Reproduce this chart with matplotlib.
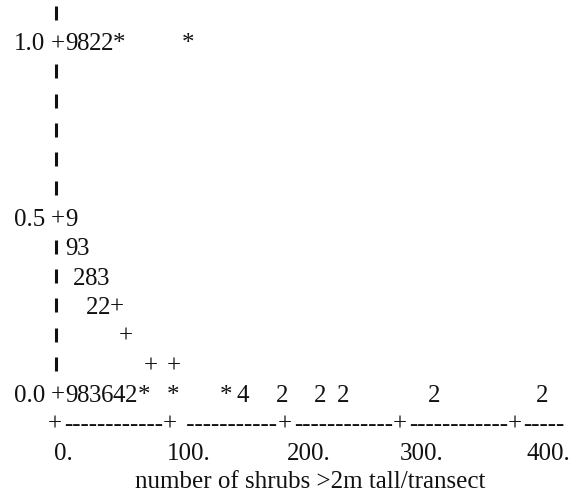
import matplotlib
matplotlib.use('Agg')
import matplotlib.pyplot as plt
import matplotlib.transforms as mtransforms

plt.rcParams['font.family'] = ['Liberation Serif', 'DejaVu Serif']

# character plot, one symbol per point (digits = number of overlapping points)
row_step = 1.0 / 12

y_ticks = [0.0, 0.5, 1.0]
y_tick_labels = ['0.0', '0.5', '1.0']
x_ticks = [0, 100, 200, 300, 400]
x_tick_labels = ['0.', '100.', '200.', '300.', '400.']
x_label = 'number of shrubs >2m tall/transect'
axis_dashes = ['-' * 12, ' ' + '-' * 11, '-' * 12, '-' * 12, '-' * 5]

# x = shrubs per transect, row = proportion / (1/12)
pts_x = [12.2, 22.6, 33.0, 43.5, 53.9, 113.9,
         12.2,
         12.2, 22.6,
         19.1, 29.6, 40.0,
         30.4, 40.9, 52.2,
         60.0,
         81.7, 101.7,
         12.2, 22.6, 33.0, 43.5, 53.9, 64.3, 75.7, 100.9, 147.0, 161.7,
         195.7, 228.7, 248.7, 327.8, 421.7]
pts_row = [12, 12, 12, 12, 12, 12,
           6,
           5, 5,
           4, 4, 4,
           3, 3, 3,
           2,
           1, 1,
           0, 0, 0, 0, 0, 0, 0, 0, 0, 0, 0, 0, 0, 0, 0]
pts_sym = ['9', '8', '2', '2', '*', '*',
           '9',
           '9', '3',
           '2', '8', '3',
           '2', '2', '+',
           '+',
           '+', '+',
           '9', '8', '3', '6', '4', '2', '*', '*', '*', '4',
           '2', '2', '2', '2', '2']

W, H = 577, 498
fig = plt.figure(figsize=(W / 100, H / 100), dpi=100)
ax = fig.add_axes([0, 0, 1, 1])
ax.axis('off')

# pixel layout of the scan
x0_px, px_per_unit = 57, 1.15
y0_px, px_per_row = 105, 29.25
ax.set_xlim(-x0_px / px_per_unit, (W - x0_px) / px_per_unit)
ax.set_ylim(-y0_px / (12 * px_per_row), (H - y0_px) / (12 * px_per_row))

fs = 18
ink = '#111111'
# shift so the row value sits at the middle of the digits
tr = mtransforms.offset_copy(ax.transData, fig=fig, y=-8.5, units='dots')

for x, r, s in zip(pts_x, pts_row, pts_sym):
    ax.text(x, r * row_step, s, ha='center', va='baseline', fontsize=fs,
            color=ink, transform=tr)

# y axis
n_rows = 13
for r in range(n_rows + 1):
    yv = r * row_step
    if any(abs(yv - t) < 1e-6 for t in y_ticks):
        ax.text(0.5, yv, '+', ha='center', va='baseline', fontsize=fs,
                color=ink, transform=tr)
    else:
        ax.plot(-0.5, yv, marker='|', ms=10, mew=2.2, color=ink)
for t, lab in zip(y_ticks, y_tick_labels):
    ax.text(-10, t, lab, ha='right', va='baseline', fontsize=fs,
            color=ink, transform=tr)

# x axis
ya = -row_step
for t in x_ticks:
    ax.text(t - 1.5, ya, '+', ha='center', va='baseline', fontsize=fs,
            color=ink, transform=tr)
for i, d in enumerate(axis_dashes):
    if i < len(x_ticks) - 1:
        ax.text((x_ticks[i] + x_ticks[i + 1]) / 2 - 1, ya, d, ha='center',
                va='baseline', fontsize=fs, color=ink, transform=tr)
    else:
        ax.text(x_ticks[-1] + 5, ya, d, ha='left', va='baseline',
                fontsize=fs, color=ink, transform=tr)

# label left edges sit a little off the tick marks in the scan (pixels)
label_shift = [-3, -5, 0, -2, 10]
for t, lab, s in zip(x_ticks, x_tick_labels, label_shift):
    ax.text(t + s / px_per_unit, -2 * row_step, lab, ha='left',
            va='baseline', fontsize=fs, color=ink, transform=tr)

ax.text(220, -2.95 * row_step, x_label, ha='center', va='baseline',
        fontsize=fs, color=ink, transform=tr)

fig.savefig('out.png', dpi=100, facecolor='white')
